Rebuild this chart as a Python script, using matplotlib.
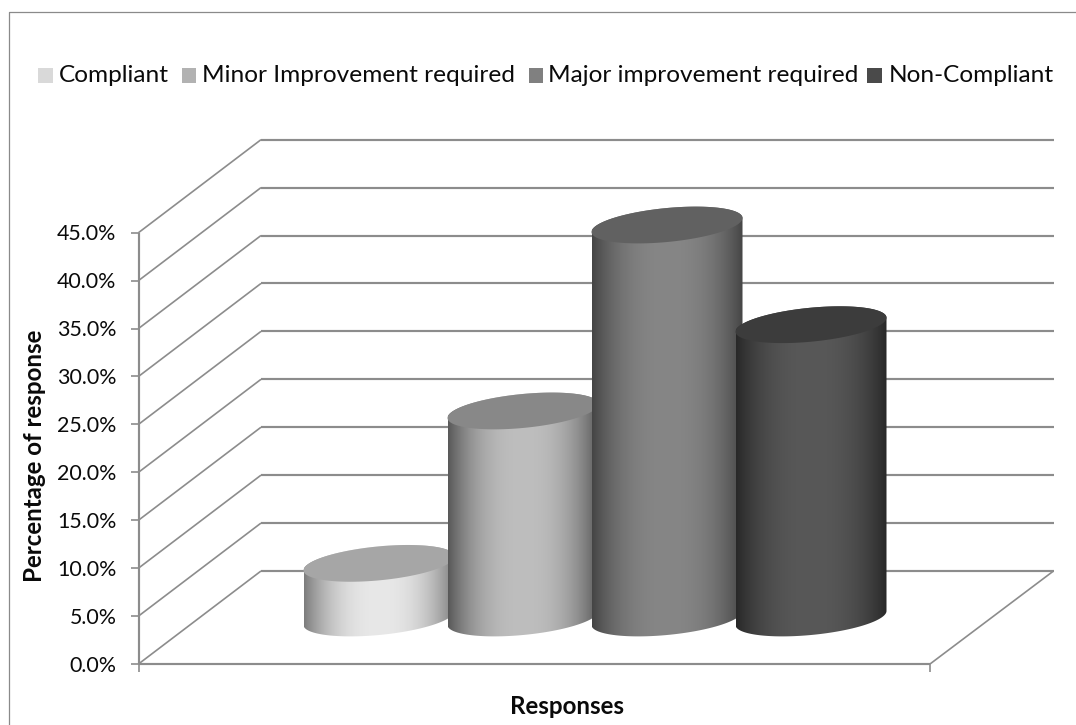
import numpy as np
import matplotlib
matplotlib.use("Agg")
import matplotlib.pyplot as plt
from matplotlib.patches import Polygon, Rectangle

plt.rcParams["font.family"] = ["Lato", "DejaVu Sans"]

# Data
categories = ["Compliant", "Minor Improvement required",
              "Major improvement required", "Non-Compliant"]
values = [5.7, 21.6, 41.0, 30.6]
y_ticks = [0, 5, 10, 15, 20, 25, 30, 35, 40, 45]
y_tick_labels = ["0.0%", "5.0%", "10.0%", "15.0%", "20.0%", "25.0%",
                 "30.0%", "35.0%", "40.0%", "45.0%"]
x_label = "Responses"
y_label = "Percentage of response"

# Colours per series
legend_colors = ["#d9d9d9", "#b2b2b2", "#808080", "#4a4a4a"]
body_center = ["#e8e8e8", "#bebebe", "#868686", "#585858"]
body_edge = ["#7c7c7c", "#585858", "#454545", "#282828"]
cap_colors = ["#a6a6a6", "#888888", "#616161", "#3c3c3c"]
line_color = "#8c8c8c"
text_color = "#0a0a0a"

# Layout (figure pixels)
W, H = 1076, 725
FRONT_LEFT, FRONT_RIGHT = 138.5, 930
BASE_PX = 664
PCT_PX = 9.585
DEPTH_X, DEPTH_Y = 122.5, 93
CYL_START, CYL_STEP, CYL_W = 379, 144, 151
CYL_BASE_PX = 618
CAP_TILT, CAP_H = 7, 17


def py(p):
    """Turn a pixel row into a percentage on the y axis."""
    return (BASE_PX - p) / PCT_PX


fig = plt.figure(figsize=(W / 100, H / 100), dpi=100, facecolor="white")
ax = fig.add_axes([0, 0, 1, 1])
ax.axis("off")
ax.set_xlim(0, W)
ax.set_ylim(py(H), py(0))
ax.set_autoscale_on(False)

flat_kw = dict(color=line_color, lw=1.55, solid_capstyle="butt", zorder=1)
slant_kw = dict(color=line_color, lw=1.2, solid_capstyle="butt", zorder=1)
dz = DEPTH_Y / PCT_PX
wall_left = FRONT_LEFT + DEPTH_X
wall_right = 1053.5

# Outer chart border
ax.plot([W, 9, 9], [py(12), py(12), py(H)], color="#8a8a8a", lw=0.9, zorder=1)

# Back wall gridlines with their slanted side-wall segments
for t, label in zip(y_ticks, y_tick_labels):
    ax.plot([FRONT_LEFT, wall_left], [t, t + dz], **slant_kw)
    ax.plot([wall_left, wall_right], [t + dz, t + dz], **flat_kw)
    ax.plot([FRONT_LEFT - 8, FRONT_LEFT], [t, t], **slant_kw)
    ax.text(116.5, t - 1.5 / PCT_PX, label, ha="right", va="center",
            fontsize=15.4, color=text_color)

# Front edges of the floor and the vertical axis
ax.plot([FRONT_LEFT, FRONT_LEFT], [0, y_ticks[-1]], **flat_kw)
ax.plot([FRONT_LEFT, FRONT_RIGHT], [0, 0], **flat_kw)
ax.plot([FRONT_RIGHT, wall_right], [0, dz], **slant_kw)
for x in (FRONT_LEFT, FRONT_RIGHT):
    ax.plot([x, x], [0, -8 / PCT_PX], **slant_kw)


def rgb(c):
    return np.array(matplotlib.colors.to_rgb(c))


def draw_cylinder(i, value):
    cx = CYL_START + CYL_STEP * i
    a = CYL_W / 2
    base = py(CYL_BASE_PX)
    top = base + value
    th = np.linspace(0, 2 * np.pi, 200)
    tilt = CAP_TILT / PCT_PX
    b = CAP_H / PCT_PX
    ex, ey = a * np.cos(th), tilt * np.cos(th) + b * np.sin(th)

    # Silhouette: lower half of the base ellipse, then back along the top
    low = np.linspace(np.pi, 2 * np.pi, 100)
    lx = cx + a * np.cos(low)
    ly = base + tilt * np.cos(low) + b * np.sin(low)
    hi = np.linspace(0, np.pi, 100)
    ux = cx + a * np.cos(hi)
    uy = top + tilt * np.cos(hi) + b * np.sin(hi)
    outline = np.column_stack([np.r_[lx, ux], np.r_[ly, uy]])

    u = np.abs(np.linspace(-1, 1, 400)) ** 2.4
    shade = rgb(body_center[i])[None, :] * (1 - u[:, None]) + rgb(body_edge[i])[None, :] * u[:, None]
    im = ax.imshow(shade[None, :, :], aspect="auto", interpolation="bilinear",
                   extent=(cx - a, cx + a, base - 3, top + 3),
                   zorder=2 + i)
    clip = Polygon(outline, closed=True, transform=ax.transData, fc="none", ec="none")
    ax.add_patch(clip)
    im.set_clip_path(clip)

    ax.fill(cx + ex, top + ey, color=cap_colors[i], lw=0, zorder=2 + i + 0.5)


for i, v in enumerate(values):
    draw_cylinder(i, v)

# Legend row
legend_box_x = [38, 181.5, 528.5, 867]
legend_text_x = [58.5, 202.5, 548.5, 888.5]
for name, col, bx, tx in zip(categories, legend_colors, legend_box_x, legend_text_x):
    ax.add_patch(Rectangle((bx, py(83)), 14.5, 15 / PCT_PX, fc=col, ec="none", zorder=6))
    ax.text(tx, py(75), name, ha="left", va="center", fontsize=17.6, color=text_color)

# Axis titles
ax.text(567, py(706), x_label, ha="center", va="center", fontsize=17.4,
        fontweight="bold", color=text_color)
ax.text(34.5, py(456), y_label, ha="center", va="center", rotation=90, fontsize=17.4,
        fontweight="bold", color=text_color)

fig.savefig("out.png", dpi=100, facecolor="white")
